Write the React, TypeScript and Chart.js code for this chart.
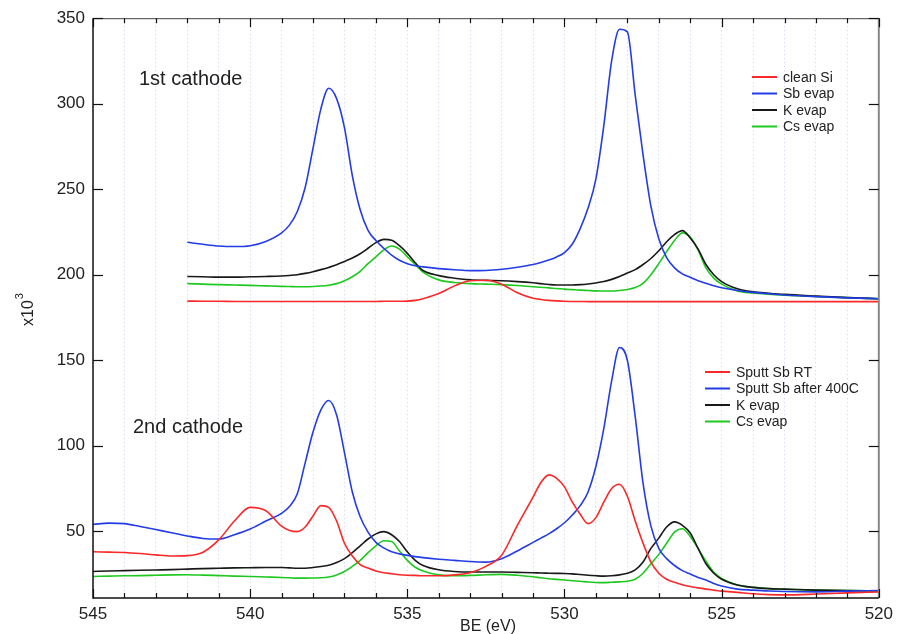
import React, { useEffect, useRef } from 'react';
import { Chart, registerables } from 'chart.js';

Chart.register(...registerables);

// Binding energy grid (eV), shared by all curves
const BE = [
  545, 544.5, 544, 543.5, 543, 542.5,
  542, 541.5, 541, 540.5, 540, 539.5, 539,
  538.75, 538.5, 538.25, 538, 537.75, 537.5, 537.25, 537,
  536.75, 536.5, 536.25, 536, 535.75, 535.5, 535.25, 535,
  534.75, 534.5, 534, 533.5, 533, 532.5, 532, 531.5, 531,
  530.75, 530.5, 530.25, 530, 529.75, 529.5, 529.25, 529,
  528.75, 528.5, 528.25, 528, 527.75, 527.5, 527.25, 527,
  526.75, 526.5, 526.25, 526, 525.75, 525.5, 525.25, 525,
  524.5, 524, 523.5, 523, 522, 521, 520,
];

// 1st cathode (x10^3 counts)
const C1_CLEAN_SI = [
  null, null, null, null, null, null,
  184.6, 184.5, 184.5, 184.4, 184.4, 184.4, 184.4,
  184.4, 184.4, 184.4, 184.4, 184.4, 184.4, 184.4, 184.4,
  184.4, 184.4, 184.4, 184.4, 184.5, 184.5, 184.5, 184.6,
  185, 186, 189, 193.5, 196.5, 196.8, 194.5, 189.5, 186.3,
  185.5, 185, 184.7, 184.5, 184.4, 184.4, 184.3, 184.3,
  184.3, 184.3, 184.3, 184.3, 184.3, 184.3, 184.3, 184.3,
  184.3, 184.3, 184.3, 184.3, 184.3, 184.3, 184.3, 184.3,
  184.3, 184.3, 184.3, 184.3, 184.3, 184.3, 184.3,
];
const C1_SB_EVAP = [
  null, null, null, null, null, null,
  219, 217.8, 216.8, 216.5, 217, 219.5, 224.5,
  229, 237, 251, 274, 297, 309, 303, 286,
  258, 238, 226, 220, 215.5, 211.5, 208.5, 206.5,
  205.3, 204.6, 203.6, 202.9, 202.4, 202.5, 203.2, 204.4, 206,
  207.2, 208.6, 210.4, 213, 218, 227, 239, 256,
  287, 325, 343.5, 342, 305, 270, 240, 221,
  210, 204, 200.5, 198.5, 196.5, 195, 193.6, 192.4,
  190.8, 189.7, 188.9, 188.2, 187.2, 186.5, 186,
];
const C1_K_EVAP = [
  null, null, null, null, null, null,
  199, 198.8, 198.6, 198.6, 198.8, 199, 199.3,
  199.6, 200, 200.8, 201.8, 203, 204.3, 205.8, 207.8,
  209.8, 212.3, 215.5, 218.8, 220.7, 220.2, 217, 212.5,
  207, 202.5, 199.5, 198, 197, 196.7, 196.5, 196, 195.3,
  194.8, 194.3, 194, 194, 194, 194.2, 194.6, 195.2,
  196, 197.3, 199, 201, 203, 206, 209.5, 214,
  219.3, 223.5, 225.8, 221.5, 215, 206, 200, 196,
  191.8, 190, 189.2, 188.5, 187.5, 186.6, 186,
];
const C1_CS_EVAP = [
  null, null, null, null, null, null,
  194.8, 194.5, 194.2, 194, 193.8, 193.5, 193.2,
  193.1, 193, 193, 193.1, 193.4, 193.9, 194.8, 196.5,
  198.8, 202, 206.5, 210.5, 214.5, 216.8, 215, 210.5,
  206, 201.5, 197, 195.5, 194.8, 194.5, 194.2, 193.7, 193,
  192.7, 192.3, 192, 191.6, 191.3, 191, 190.8, 190.6,
  190.5, 190.5, 190.8, 191.4, 192.5, 195, 200, 206.5,
  213.5, 220, 224.5, 222, 214.5, 204, 198, 194.5,
  190.5, 189.3, 188.6, 188.1, 187.3, 186.6, 186,
];

// 2nd cathode (x10^3 counts)
const C2_SPUTT_RT = [
  38, 37.8, 37.6, 37, 36.2, 35.6,
  35.8, 37.8, 45, 56, 64, 62, 53,
  50.5, 49.8, 52.5, 59, 65, 64, 56, 43,
  35.5, 30.5, 28.5, 26.8, 25.8, 25.2, 24.6, 24.3,
  24.2, 24, 24, 24.5, 25.8, 29.5, 36, 53.5, 70,
  78.5, 83, 81, 76, 67, 60, 54.5, 58,
  67, 75, 77.5, 70.5, 56, 43, 32, 25.5,
  22, 20.2, 18.8, 17.7, 16.9, 16.2, 15.6, 15,
  14.3, 13.5, 13, 12.8, 13.3, 14, 14.5,
];
const C2_SPUTT_400C = [
  54, 54.8, 54.5, 52.8, 51, 49.2,
  47.3, 45.8, 45.5, 48, 51.3, 56, 60.5,
  64.5, 72, 90, 108, 121, 126.5, 118, 96,
  73, 58.5, 49.5, 43.5, 40.3, 38, 36.8, 35.9,
  35.2, 34.6, 33.7, 33, 32.3, 32, 34, 38.5, 43.5,
  46, 48.5, 51.5, 55, 59.5, 65, 73, 88,
  110, 138, 157.5, 150, 117, 78, 53, 40,
  34, 30, 27, 25, 23, 21.5, 19.5, 18,
  16.2, 15.6, 15.1, 14.8, 14.6, 15, 15.3,
];
const C2_K_EVAP = [
  26.5, 26.8, 27, 27.2, 27.4, 27.6,
  27.9, 28.2, 28.4, 28.6, 28.7, 28.8, 28.8,
  28.6, 28.4, 28.4, 28.8, 29.4, 30.2, 31.7, 34,
  37.5, 41.5, 45.5, 48.5, 49.8, 48, 44, 38,
  33, 30, 27.5, 26.5, 26.2, 26.2, 26.2, 26, 25.8,
  25.6, 25.5, 25.4, 25.3, 25.1, 24.7, 24.3, 24,
  23.8, 24, 24.5, 25.5, 27.5, 32, 40, 46,
  52.5, 55.5, 53.5, 49, 40, 31, 25.5, 22,
  18.6, 17.2, 16.5, 16.2, 15.6, 15.3, 15.2,
];
const C2_CS_EVAP = [
  23.6, 23.8, 24, 24.1, 24.3, 24.5,
  24.6, 24.4, 24.1, 23.8, 23.6, 23.3, 23,
  22.8, 22.6, 22.6, 22.7, 22.8, 23.3, 24.5, 26.5,
  29.5, 33, 37.5, 41.5, 44.5, 44, 38.5, 33,
  29, 26.8, 24.5, 24, 24.2, 24.6, 24.8, 24.3, 23.4,
  22.8, 22.3, 21.9, 21.5, 21.1, 20.8, 20.4, 20.1,
  20, 20.2, 20.4, 20.8, 22, 25.5, 31, 36.5,
  43, 49.5, 51.5, 47, 40, 32.5, 26, 22.5,
  18.6, 17.2, 16.5, 16.1, 15.6, 15.3, 15.2,
];

const X_TICKS = [545, 544, 543, 542, 541, 540, 539, 538, 537, 536, 535, 534, 533,
  532, 531, 530, 529, 528, 527, 526, 525, 524, 523, 522, 521, 520];
const Y_TICKS = [50, 100, 150, 200, 250, 300, 350];

const LEGEND_1 = ['clean Si', 'Sb evap', 'K evap', 'Cs evap'];
const LEGEND_2 = ['Sputt Sb RT', 'Sputt Sb after 400C', 'K evap', 'Cs evap'];
const TITLE_1 = '1st cathode';
const TITLE_2 = '2nd cathode';

const RED = 'rgb(250,40,40)';
const BLUE = 'rgb(35,60,230)';
const BLACK = 'rgb(25,25,25)';
const GREEN = 'rgb(30,200,30)';
const FONT = '"Liberation Sans", Arial, Helvetica, sans-serif';

const toPoints = (arr: (number | null)[]) => BE.map((x, i) => ({ x, y: arr[i] }));

const mkSet = (label: string, arr: (number | null)[], color: string) => ({
  label,
  data: toPoints(arr),
  borderColor: color,
  backgroundColor: color,
  borderWidth: 1.6,
  pointRadius: 0,
  cubicInterpolationMode: 'monotone' as const,
  spanGaps: false,
  fill: false,
});

const framePlugin = {
  id: 'frameAndText',
  afterDraw(chart: any) {
    const { ctx, chartArea: a, scales } = chart;
    const xs = scales.x;
    const ys = scales.y;
    const line = (x1: number, y1: number, x2: number, y2: number) => {
      ctx.beginPath();
      ctx.moveTo(x1, y1);
      ctx.lineTo(x2, y2);
      ctx.stroke();
    };
    ctx.save();
    ctx.setLineDash([]);
    // top & right frame
    ctx.strokeStyle = '#444';
    ctx.lineWidth = 1;
    line(a.left, a.top + 0.5, a.right, a.top + 0.5);
    ctx.strokeStyle = '#888';
    ctx.lineWidth = 2;
    line(a.right, a.top, a.right, a.bottom);
    // left & bottom axes
    ctx.strokeStyle = '#111';
    ctx.lineWidth = 1.5;
    line(a.left, a.top, a.left, a.bottom + 0.75);
    line(a.left, a.bottom, a.right, a.bottom);
    // ticks
    ctx.lineWidth = 1.2;
    X_TICKS.forEach((v) => {
      const px = Math.round(xs.getPixelForValue(v)) + 0.5;
      const len = v % 5 === 0 ? 9 : 5;
      line(px, a.bottom, px, a.bottom - len);
      line(px, a.top, px, a.top + len);
    });
    Y_TICKS.forEach((v) => {
      const py = Math.round(ys.getPixelForValue(v)) + 0.5;
      line(a.left, py, a.left + 10, py);
      line(a.right, py, a.right - 10, py);
    });

    // annotations
    ctx.fillStyle = '#222';
    ctx.textBaseline = 'alphabetic';
    ctx.textAlign = 'left';
    ctx.font = `20px ${FONT}`;
    ctx.fillText(TITLE_1, 139, 85);
    ctx.fillText(TITLE_2, 133, 433);

    // legends
    const drawLegend = (labels: string[], colors: string[], lx: number, ly: number) => {
      ctx.font = `14px ${FONT}`;
      ctx.textBaseline = 'middle';
      labels.forEach((t, i) => {
        const y = ly + i * 16.5;
        ctx.strokeStyle = colors[i];
        ctx.lineWidth = 2;
        line(lx, y, lx + 25, y);
        ctx.fillStyle = '#222';
        ctx.fillText(t, lx + 31, y + 1);
      });
    };
    drawLegend(LEGEND_1, [RED, BLUE, BLACK, GREEN], 752, 77);
    drawLegend(LEGEND_2, [RED, BLUE, BLACK, GREEN], 705, 372);

    // y axis title x10^3
    ctx.save();
    ctx.translate(33, 326);
    ctx.rotate(-Math.PI / 2);
    ctx.textBaseline = 'alphabetic';
    ctx.fillStyle = '#222';
    ctx.font = `16px ${FONT}`;
    ctx.fillText('x10', 0, 0);
    const w = ctx.measureText('x10').width;
    ctx.font = `11px ${FONT}`;
    ctx.fillText('3', w + 1, -10);
    ctx.restore();

    // x axis title
    ctx.font = `16px ${FONT}`;
    ctx.textAlign = 'center';
    ctx.textBaseline = 'alphabetic';
    ctx.fillStyle = '#222';
    ctx.fillText('BE (eV)', 488, 631);
    ctx.restore();
  },
};

export default function App() {
  const ref = useRef<HTMLCanvasElement | null>(null);
  useEffect(() => {
    if (!ref.current) return;
    const chart = new Chart(ref.current, {
      type: 'line',
      data: {
        datasets: [
          mkSet('clean Si', C1_CLEAN_SI, RED),
          mkSet('Sb evap', C1_SB_EVAP, BLUE),
          mkSet('K evap', C1_K_EVAP, BLACK),
          mkSet('Cs evap', C1_CS_EVAP, GREEN),
          mkSet('Sputt Sb RT', C2_SPUTT_RT, RED),
          mkSet('Sputt Sb after 400C', C2_SPUTT_400C, BLUE),
          mkSet('K evap', C2_K_EVAP, BLACK),
          mkSet('Cs evap', C2_CS_EVAP, GREEN),
        ] as any,
      },
      options: {
        animation: false,
        responsive: false,
        devicePixelRatio: 1,
        layout: { padding: { left: 0, right: 16, top: 16, bottom: 0 } },
        plugins: { legend: { display: false }, tooltip: { enabled: false } },
        scales: {
          x: {
            type: 'linear',
            reverse: true,
            min: 520,
            max: 545,
            afterBuildTicks: (s: any) => {
              s.ticks = X_TICKS.map((v) => ({ value: v }));
            },
            afterFit: (s: any) => {
              s.height = 36;
            },
            ticks: {
              autoSkip: false,
              maxRotation: 0,
              padding: 6,
              color: '#222',
              font: { family: FONT, size: 17 },
              callback: (v: any) => (Number(v) % 5 === 0 ? String(v) : ''),
            },
            border: { display: false, dash: [1, 3] },
            grid: {
              display: true,
              drawTicks: false,
              color: 'rgba(140,140,240,0.45)',
              lineWidth: 1,
            },
          },
          y: {
            type: 'linear',
            min: 11,
            max: 350,
            afterBuildTicks: (s: any) => {
              s.ticks = Y_TICKS.map((v) => ({ value: v }));
            },
            afterFit: (s: any) => {
              s.width = 93;
            },
            ticks: {
              padding: 8,
              color: '#222',
              font: { family: FONT, size: 17 },
            },
            border: { display: false },
            grid: { display: false, drawTicks: false },
          },
        },
      } as any,
      plugins: [framePlugin],
    });
    return () => chart.destroy();
  }, []);
  return (
    <div style={{ position: 'absolute', left: 0, top: 0, width: 899, height: 634, background: '#fff' }}>
      <canvas ref={ref} width={899} height={634} style={{ display: 'block' }} />
    </div>
  );
}
